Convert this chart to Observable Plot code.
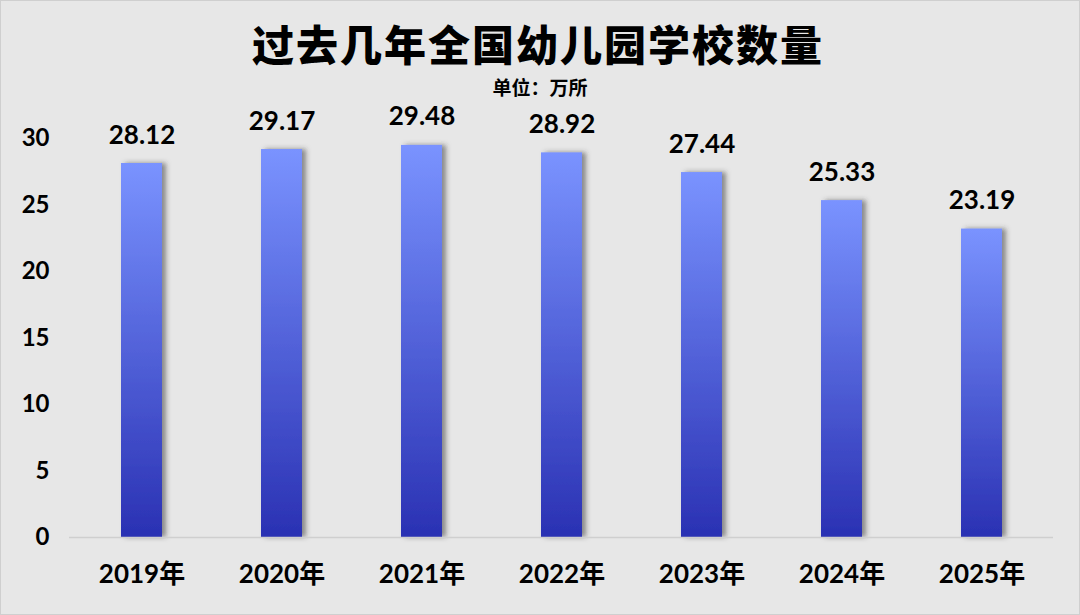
<!DOCTYPE html>
<html>
<head>
<meta charset="utf-8">
<script src="https://cdn.jsdelivr.net/npm/d3@7"></script>
<script src="https://cdn.jsdelivr.net/npm/@observablehq/plot@0.6"></script>
<style>
  html, body { margin: 0; padding: 0; background: #e6e6e6; }
  #wrap { position: relative; width: 1078px; height: 613px; border: 1px solid #cfcfcf; background: #e7e7e7; overflow: hidden; }
  #header { position: relative; height: 99px; }
  #title { position: absolute; left: 0; width: 1074px; top: 19px; text-align: center; letter-spacing: 2px;
    font-family: "Noto Sans CJK SC", sans-serif; font-weight: 900; font-size: 42px; line-height: 46px; color: #000; }
  #subtitle { position: absolute; left: 0; width: 1078px; top: 75px; text-align: center;
    font-family: "Noto Sans CJK SC", sans-serif; font-weight: 700; font-size: 19px; line-height: 22px; color: #000; }
  #chart svg { display: block; }
</style>
</head>
<body>
<div id="wrap">
  <div id="header">
    <div id="title">过去几年全国幼儿园学校数量</div>
    <div id="subtitle">单位：万所</div>
  </div>
  <div id="chart"></div>
</div>
<script>
const years = ["2019年", "2020年", "2021年", "2022年", "2023年", "2024年", "2025年"];
const counts = [28.12, 29.17, 29.48, 28.92, 27.44, 25.33, 23.19];
const yTicks = [0, 5, 10, 15, 20, 25, 30];

const data = years.map((year, i) => ({year, value: counts[i]}));
const font = "Lato, 'Noto Sans CJK SC', sans-serif";

const chart = Plot.plot({
  width: 1078,
  height: 514,
  marginTop: 38,
  marginBottom: 77,
  marginLeft: 68,
  marginRight: 26,
  style: { background: "transparent", fontFamily: font, color: "#000" },
  x: { domain: years, paddingInner: 0.708, paddingOuter: 0.354, label: null },
  y: { domain: [0, 30], label: null },
  marks: [
    Plot.axisY({ ticks: yTicks, tickSize: 0, tickPadding: 20, fontSize: 24, fontWeight: "bold", fontFamily: font, label: null }),
    Plot.axisX({ tickSize: 0, tickPadding: 27, fontSize: 26, fontWeight: "bold", fontFamily: font, label: null }),
    Plot.barY(data, { x: "year", y: "value", fill: "url(#barGrad)", className: "bars" }),
    Plot.ruleY([0], { stroke: "#cfcfcf", strokeWidth: 1.5 }),
    Plot.text(data, { x: "year", y: "value", text: d => d.value.toFixed(2), dy: -20, lineAnchor: "bottom",
      fontSize: 26, fontWeight: "bold", fontFamily: font, fill: "#000" })
  ]
});

const svg = d3.select(chart);
const defs = svg.insert("defs", ":first-child");
const grad = defs.append("linearGradient").attr("id", "barGrad")
  .attr("x1", 0).attr("y1", 0).attr("x2", 0).attr("y2", 1);
grad.append("stop").attr("offset", "0%").attr("stop-color", "#7a93ff");
grad.append("stop").attr("offset", "100%").attr("stop-color", "#2a31b3");
const filt = defs.append("filter").attr("id", "barShadow")
  .attr("x", "-20%").attr("y", "-5%").attr("width", "160%").attr("height", "110%");
filt.append("feDropShadow").attr("dx", 4).attr("dy", 0).attr("stdDeviation", 2.5)
  .attr("flood-color", "#3a3a3a").attr("flood-opacity", 0.55);
svg.selectAll("g.bars rect").attr("filter", "url(#barShadow)");

document.getElementById("chart").appendChild(chart);
</script>
</body>
</html>
